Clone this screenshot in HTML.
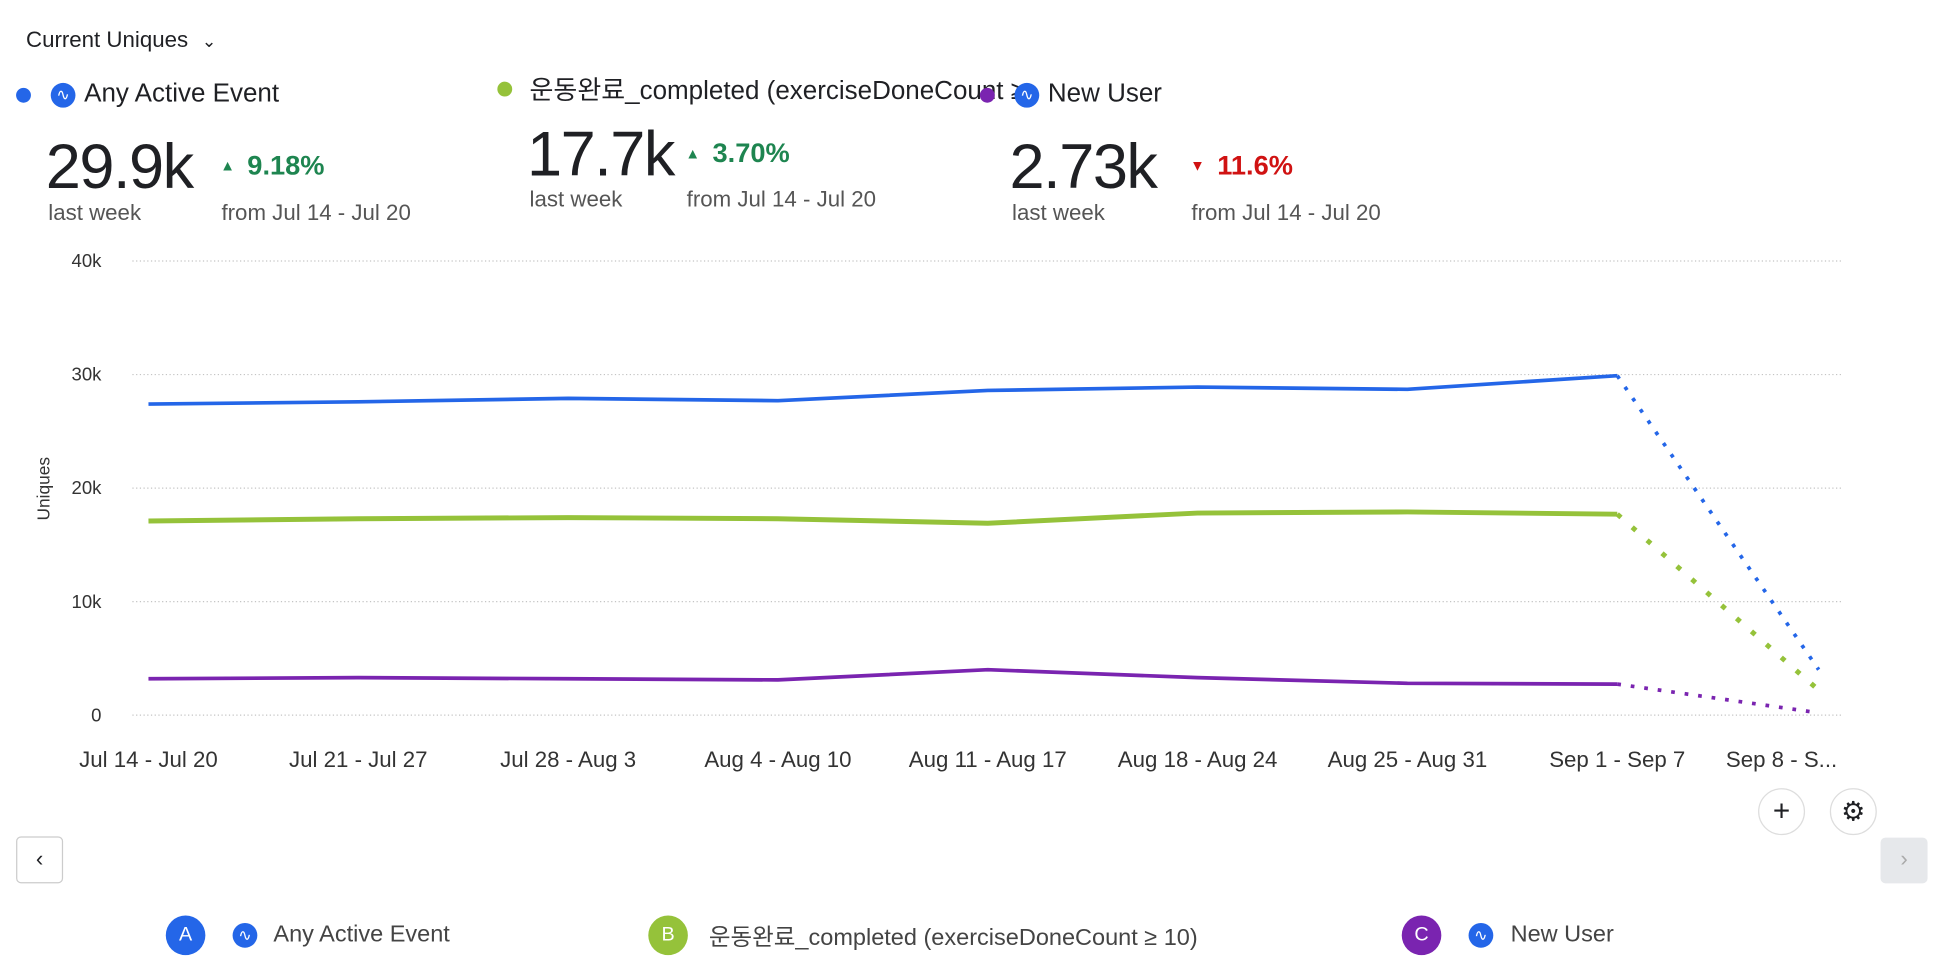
<!DOCTYPE html>
<html><head><meta charset="utf-8">
<style>
html,body{margin:0;padding:0;background:#fff;width:1940px;height:980px;overflow:hidden}
#wrap{position:absolute;left:0;top:0;width:1568px;height:792px;transform:scale(1.2372);transform-origin:0 0;font-family:"Liberation Sans","Noto Sans CJK KR",sans-serif;color:#1f2024}
.abs{position:absolute;white-space:nowrap}
.dot{position:absolute;width:12px;height:12px;border-radius:50%}
.icon{position:absolute;width:20px;height:20px;border-radius:50%;background:#2466e8;color:#fff;font-size:13px;line-height:20px;text-align:center}
.big{font-size:51px;letter-spacing:-1.2px;color:#1f2024}
.pct{font-size:22px;color:#1e8550;font-weight:bold}
.sub{font-size:18px;color:#555}
.bl{position:absolute;width:32px;height:32px;border-radius:50%;color:#fff;font-size:16px;line-height:32px;text-align:center}
.bt{font-size:19px;color:#444}
</style></head><body>
<div id="wrap">
<div class="abs" style="left:21px;top:22px;font-size:18px">Current Uniques <span style="font-size:14px;margin-left:6px">&#8964;</span></div>

<div class="dot" style="left:13px;top:71px;background:#2466e8"></div>
<div class="icon" style="left:41px;top:67px">&#8767;</div>
<div class="abs" style="left:68px;top:64px;font-size:21px">Any Active Event</div>

<div class="dot" style="left:402px;top:66px;background:#95c23a"></div>
<div class="abs" style="left:428px;top:57px;font-size:21px">운동완료_completed (exerciseDoneCount ≥</div>

<div class="dot" style="left:792px;top:71px;background:#7a24b0"></div>
<div class="icon" style="left:820px;top:67px">&#8767;</div>
<div class="abs" style="left:847px;top:64px;font-size:21px">New User</div>

<div class="abs big" style="left:37px;top:105px">29.9k</div>
<div class="abs pct" style="left:178px;top:121px"><span style="font-size:12px;vertical-align:3px;margin-right:10px">&#9650;</span>9.18%</div>
<div class="abs sub" style="left:39px;top:162px">last week</div>
<div class="abs sub" style="left:179px;top:162px">from Jul 14 - Jul 20</div>

<div class="abs big" style="left:426px;top:95px">17.7k</div>
<div class="abs pct" style="left:554px;top:111px"><span style="font-size:12px;vertical-align:3px;margin-right:10px">&#9650;</span>3.70%</div>
<div class="abs sub" style="left:428px;top:151px">last week</div>
<div class="abs sub" style="left:555px;top:151px">from Jul 14 - Jul 20</div>

<div class="abs big" style="left:816px;top:105px">2.73k</div>
<div class="abs pct" style="left:962px;top:121px;color:#d01212"><span style="font-size:12px;vertical-align:3px;margin-right:10px">&#9660;</span>11.6%</div>
<div class="abs sub" style="left:818px;top:162px">last week</div>
<div class="abs sub" style="left:963px;top:162px">from Jul 14 - Jul 20</div>

<svg id="chart" class="abs" style="left:0;top:0" width="1568" height="792"></svg>

<div class="abs" style="left:1421px;top:637px;width:36px;height:36px;border:1px solid #ddd;border-radius:50%;text-align:center;line-height:36px;font-size:24px">+</div>
<div class="abs" style="left:1479px;top:637px;width:36px;height:36px;border:1px solid #ddd;border-radius:50%;text-align:center;line-height:36px;font-size:22px">&#9881;</div>
<div class="abs" style="left:13px;top:676px;width:36px;height:36px;border:1px solid #ccc;border-radius:4px;text-align:center;line-height:34px;font-size:18px">&#8249;</div>
<div class="abs" style="left:1520px;top:677px;width:38px;height:37px;background:#e6e8eb;border-radius:4px;text-align:center;line-height:35px;font-size:18px;color:#aaa">&#8250;</div>

<div class="bl" style="left:134px;top:740px;background:#2466e8">A</div>
<div class="icon" style="left:188px;top:746px">&#8767;</div>
<div class="abs bt" style="left:221px;top:745px">Any Active Event</div>
<div class="bl" style="left:524px;top:740px;background:#95c23a">B</div>
<div class="abs bt" style="left:573px;top:743px">운동완료_completed (exerciseDoneCount ≥ 10)</div>
<div class="bl" style="left:1133px;top:740px;background:#7a24b0">C</div>
<div class="icon" style="left:1187px;top:746px">&#8767;</div>
<div class="abs bt" style="left:1221px;top:745px">New User</div>
</div>
<script>
const categories=["Jul 14 - Jul 20","Jul 21 - Jul 27","Jul 28 - Aug 3","Aug 4 - Aug 10","Aug 11 - Aug 17","Aug 18 - Aug 24","Aug 25 - Aug 31","Sep 1 - Sep 7","Sep 8 - S..."];
const seriesA=[27400,27600,27900,27700,28600,28900,28700,29900,4000];
const seriesB=[17100,17300,17400,17300,16900,17800,17900,17700,2200];
const seriesC=[3200,3300,3200,3100,4000,3300,2800,2730,200];
const yTicks=[0,10000,20000,30000,40000];
const yTickLabels=["0","10k","20k","30k","40k"];
const NS="http://www.w3.org/2000/svg";
const svg=document.getElementById('chart');
const x=i=>i<8?120+i*169.6:1470;
const y=v=>578-v*(367/40000);
function mk(t,a){const e=document.createElementNS(NS,t);for(const k in a)e.setAttribute(k,a[k]);svg.appendChild(e);return e;}
yTicks.forEach((v,i)=>{
 const g=mk('line',{x1:107,x2:1489,y1:y(v),y2:y(v),stroke:'#c4c4c4','stroke-dasharray':'1 2'});
 
 
 const t=mk('text',{x:82,y:y(v)+5,'text-anchor':'end','font-size':15,fill:'#333','font-family':'Liberation Sans'});
 t.textContent=yTickLabels[i];
 
 
});
categories.forEach((c,i)=>{
 const t=mk('text',{x:i<8?x(i):1440,y:620,'text-anchor':'middle','font-size':18,fill:'#333','font-family':'Liberation Sans'});
 t.textContent=c;
 
 
});
const yt=mk('text',{x:0,y:0,transform:'translate(40,395) rotate(-90)','text-anchor':'middle','font-size':14,fill:'#333','font-family':'Liberation Sans'});
yt.textContent='Uniques';


[[seriesA,'#2466e8','a'],[seriesB,'#95c23a','b'],[seriesC,'#7a24b0','c']].forEach(([s,col,n])=>{
 const pts=s.slice(0,8).map((v,i)=>x(i)+','+y(v)).join(' ');
 const l=mk('polyline',{points:pts,fill:'none',stroke:col,'stroke-width':n==='b'?4:3,'stroke-linejoin':'round'});
 
 
 const d=mk('line',{x1:x(7),y1:y(s[7]),x2:x(8),y2:y(s[8]),stroke:col,'stroke-width':n==='b'?4:3,'stroke-dasharray':n==='b'?'4 12':'3 8'});
 
 
});
</script>
</body></html>
